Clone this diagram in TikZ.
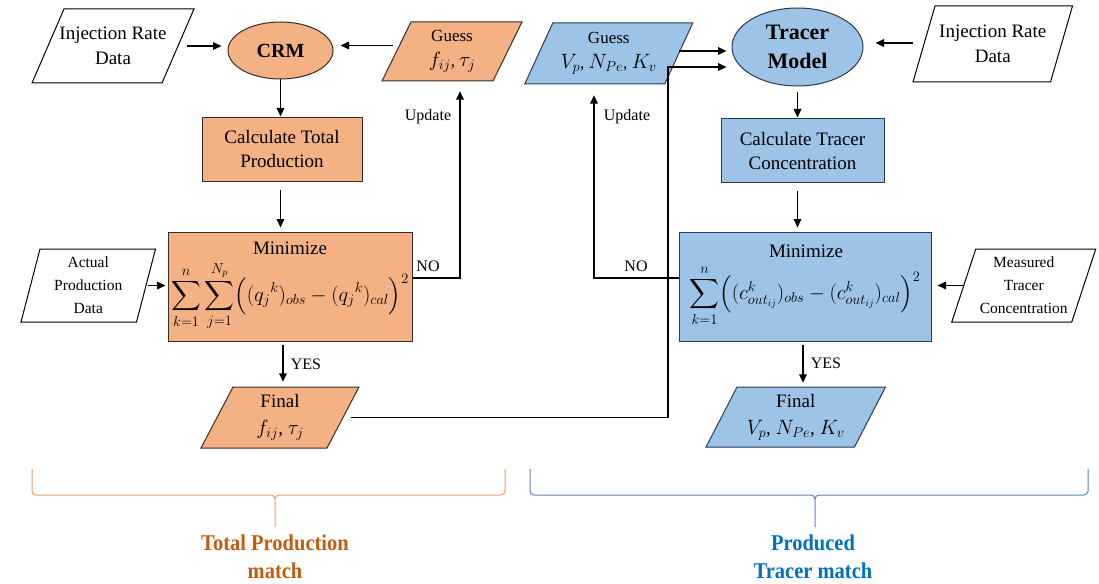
\documentclass[tikz,border=0pt]{standalone}
\usepackage{amsmath}
\usepackage{graphicx}
\usepackage{fontspec}
\setmainfont{Liberation Serif}
\usetikzlibrary{arrows.meta,calc,shapes.geometric}

\definecolor{orfill}{RGB}{244,177,131}
\definecolor{blfill}{RGB}{157,195,230}
\definecolor{orline}{RGB}{55,45,38}
\definecolor{blline}{RGB}{40,58,88}
\definecolor{ortext}{RGB}{197,90,17}
\definecolor{bltext}{RGB}{0,112,192}
\definecolor{orbrace}{RGB}{237,155,110}
\definecolor{blbrace}{RGB}{95,130,190}

% parallelogram: name, style, cx, cy, mid width, height, half slant, node options, text
\newcommand\slantbox[9]{%
  \filldraw[#2] ({#3-#5/2+#7},{#4-#6/2}) -- ({#3+#5/2+#7},{#4-#6/2})
    -- ({#3+#5/2-#7},{#4+#6/2}) -- ({#3-#5/2-#7},{#4+#6/2}) -- cycle;
  \node[inner sep=0pt, minimum width=#5pt, minimum height=#6pt, align=center, #8] (#1) at (#3,#4) {#9};}
% larger math inside the guess/final boxes
\newcommand\gm[1]{{\fontsize{20}{25}\selectfont$#1$}}
\newcommand\fm[1]{{\fontsize{22}{27}\selectfont$#1$}}

\begin{document}
\begin{tikzpicture}[x=1pt,y=-1pt,
  arr/.style={line width=1.6pt, -{Triangle[length=8.5pt,width=7.5pt]}},
  obox/.style={draw=orline, fill=orfill, line width=1pt},
  bbox/.style={draw=blline, fill=blfill, line width=1pt},
  wbox/.style={draw=black, fill=white, line width=1pt},
  lbl/.style={font=\fontsize{16}{18}\selectfont},
  f19/.style={font=\fontsize{19}{25}\selectfont},
  fsmall/.style={font=\fontsize{15.5}{23}\selectfont},
  fguess/.style={font=\fontsize{17}{25}\selectfont},
  ffinal/.style={font=\fontsize{19}{27}\selectfont},
  brO/.style={draw=orbrace, line width=1pt},
  brB/.style={draw=blbrace, line width=1pt}]

\fill[white] (0,0) rectangle (1099,583);
\useasboundingbox (0,0) rectangle (1099,583);

% ---------- total production side ----------
\slantbox{inj1}{wbox}{113}{46}{130}{74}{16}{f19}{Injection Rate\\Data}
\node[obox, ellipse, minimum width=105pt, minimum height=57pt, inner sep=0pt,
      font=\bfseries\fontsize{20}{22}\selectfont] (crm) at (280.5,50.5) {CRM};
\slantbox{guessO}{obox}{452}{51.5}{111}{59}{14.5}{fguess}{Guess\\\gm{f_{ij}}, \gm{\tau_j}}
\node[obox, minimum width=160pt, minimum height=63pt, inner sep=0pt, align=center,
      font=\fontsize{19}{24}\selectfont] (calcO) at (282,149.5) {Calculate Total\\Production};
\node[obox, minimum width=244pt, minimum height=109pt, inner sep=0pt] (minO) at (290,286.5) {};
\node[f19] (minOt) at (290,248) {Minimize};
\node[font=\fontsize{20}{24}\selectfont] (sumO) at (290,296)
  {$\displaystyle\sum_{k=1}^{n}\sum_{j=1}^{N_p}\Bigl(({q_j}^{k})_{obs}-({q_j}^{k})_{cal}\Bigr)^{2}$};
\slantbox{actual}{wbox}{88.25}{285.5}{115.5}{73}{9.5}{fsmall}{Actual\\Production\\Data}
\slantbox{finalO}{obox}{280}{417.5}{126}{61}{16}{ffinal}{Final\\\fm{f_{ij}}, \fm{\tau_j}}

% ---------- produced tracer side ----------
\slantbox{guessB}{bbox}{608.75}{53.5}{140}{61}{14}{fguess}{Guess\\\gm{V_p}, \gm{N_{Pe}}, \gm{K_v}}
\node[bbox, ellipse, minimum width=131pt, minimum height=78pt, inner sep=0pt, align=center,
      font=\bfseries\fontsize{22}{29}\selectfont] (tracer) at (797.5,47) {Tracer\\Model};
\slantbox{inj2}{wbox}{992.75}{44}{137.5}{76}{11}{f19}{Injection Rate\\Data}
\node[bbox, minimum width=163pt, minimum height=63pt, inner sep=0pt, align=center,
      font=\fontsize{19}{24}\selectfont] (calcB) at (802.5,150.5) {Calculate Tracer\\Concentration};
\node[bbox, minimum width=252pt, minimum height=109pt, inner sep=0pt] (minB) at (805,286.5) {};
\node[f19] (minBt) at (806,251) {Minimize};
\node[font=\fontsize{20}{24}\selectfont] (sumB) at (805,296)
  {$\displaystyle\sum_{k=1}^{n}\Bigl((c^{k}_{out_{ij}})_{obs}-(c^{k}_{out_{ij}})_{cal}\Bigr)^{2}$};
\slantbox{measured}{wbox}{1023.75}{285.5}{120}{73}{12}{fsmall}{Measured\\Tracer\\Concentration}
\slantbox{finalB}{bbox}{795.75}{417}{148.5}{60}{15.5}{ffinal}{Final\\\fm{V_p}, \fm{N_{Pe}}, \fm{K_v}}

% ---------- connectors ----------
\draw[arr, shorten <=9pt, shorten >=6pt] (inj1.east) -- (inj1.east -| crm.west);
\draw[arr, shorten <=3pt, shorten >=7pt] ([yshift=6pt]guessO.west) -- ([yshift=6pt]guessO.west -| crm.east);
\draw[arr, shorten >=1pt] (crm.south) -- (crm.south |- calcO.north);
\draw[arr, shorten <=8pt, shorten >=4pt] (calcO.south -| crm.south) -- (crm.south |- minO.north);
\draw[arr, shorten <=2pt, shorten >=2pt] (actual.east) -- (actual.east -| minO.west);
\draw[arr, shorten >=10pt] ([yshift=8.5pt]minO.east) -| ([xshift=8pt]guessO.south);
\draw[arr, shorten <=3pt, shorten >=5pt] ([xshift=-7pt]minO.south) -- ([xshift=-7pt]minO.south |- finalO.north);

\coordinate (jn) at (668,67);
\draw[arr, shorten <=8pt, shorten >=5pt] (finalO.east) -| (jn) -- (jn -| tracer.west);
\draw[arr, shorten >=5pt] ([yshift=2.5pt]guessB.east) -- ([yshift=2.5pt]guessB.east -| tracer.west);
\draw[arr, shorten <=11pt, shorten >=12pt] ([yshift=1pt]inj2.west) -- ([yshift=1pt]inj2.west -| tracer.east);
\draw[arr, shorten <=6pt, shorten >=1pt] (tracer.south) -- (tracer.south |- calcB.north);
\draw[arr, shorten <=8pt, shorten >=4pt] (calcB.south -| tracer.south) -- (tracer.south |- minB.north);
\draw[arr, shorten >=11pt] ([yshift=8.5pt]minB.west) -| ([xshift=-14.75pt]guessB.south);
\draw[arr, shorten <=3pt, shorten >=4pt] ([xshift=-2pt]minB.south) -- ([xshift=-2pt]minB.south |- finalB.north);
\draw[arr, shorten <=0pt, shorten >=6pt] (measured.west) -- (measured.west -| minB.east);

% ---------- connector labels ----------
\node[lbl] (updO) at (428,117) {Update};
\node[lbl] (noO) at (428,266) {NO};
\node[lbl] (yesO) at (306,364) {YES};
\node[lbl] (updB) at (627,117) {Update};
\node[lbl] (noB) at (636,266) {NO};
\node[lbl] (yesB) at (826,363) {YES};

% ---------- braces and captions ----------
\draw[brO] (32,469) -- (32,491) to[out=-90,in=180] (36,495) -- (271,495) to[out=0,in=90] (275,499) -- (275,527);
\draw[brO] (275,499) to[out=90,in=180] (279,495) -- (501,495) to[out=0,in=-90] (505,491) -- (505,469);
\draw[brB] (530,469) -- (530,491) to[out=-90,in=180] (534,495) -- (811,495) to[out=0,in=90] (815,499) -- (815,527);
\draw[brB] (815,499) to[out=90,in=180] (819,495) -- (1084,495) to[out=0,in=-90] (1088,491) -- (1088,469);

\node[text=ortext, align=center, font=\bfseries\fontsize{20.5}{28}\selectfont] (capO) at (275,557)
  {\scalebox{1}[1.1]{Total Production}\\\scalebox{1}[1.1]{match}};
\node[text=bltext, align=center, font=\bfseries\fontsize{20.5}{28}\selectfont] (capB) at (813,557)
  {\scalebox{1}[1.1]{Produced}\\\scalebox{1}[1.1]{Tracer match}};
\end{tikzpicture}
\end{document}
